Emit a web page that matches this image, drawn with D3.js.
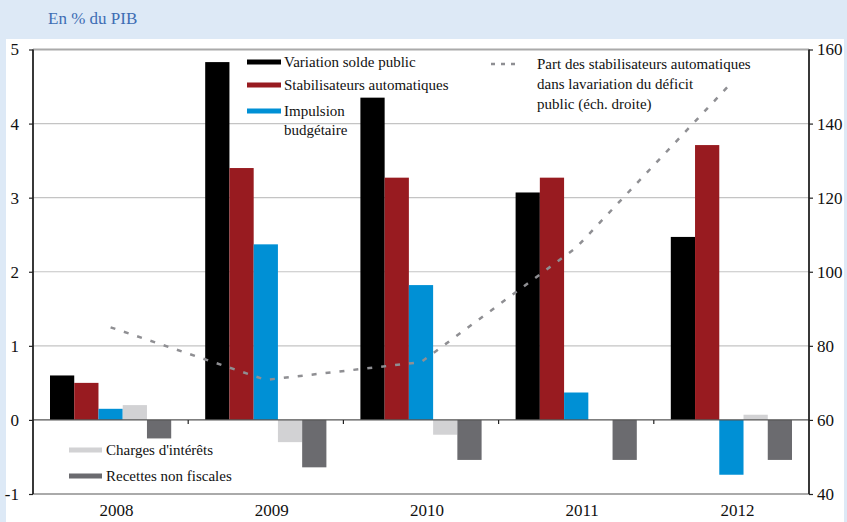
<!DOCTYPE html>
<html>
<head>
<meta charset="utf-8">
<script src="https://cdn.jsdelivr.net/npm/d3@7"></script>
<style>
  body { margin: 0; background: #dde9f6; }
  svg { display: block; font-family: "Liberation Serif", "DejaVu Serif", serif; }
</style>
</head>
<body>
<svg id="chart" width="847" height="522"></svg>
<script>
// données
const years = ['2008', '2009', '2010', '2011', '2012'];
const seriesNames = ['Variation solde public', 'Stabilisateurs automatiques', 'Impulsion budgétaire', "Charges d'intérêts", 'Recettes non fiscales'];
const seriesColors = ['#000000', '#981b20', '#0090d5', '#d2d2d4', '#6b6b6f'];
const soldePublic = [0.6, 4.83, 4.35, 3.07, 2.47];
const stabilisateurs = [0.5, 3.4, 3.27, 3.27, 3.71];
const impulsion = [0.15, 2.37, 1.82, 0.37, -0.74];
const chargesInterets = [0.2, -0.3, -0.2, 0, 0.07];
const recettesNonFiscales = [-0.25, -0.64, -0.54, -0.54, -0.54];
const partStabilisateurs = [85, 70.8, 75.6, 106.5, 151]; // éch. droite
const leftTicks = [-1, 0, 1, 2, 3, 4, 5];
const rightTicks = [40, 60, 80, 100, 120, 140, 160];

const allSeries = [soldePublic, stabilisateurs, impulsion, chargesInterets, recettesNonFiscales];

const svg = d3.select('#chart');
const m = {left: 33, right: 809, top: 49.5, bottom: 494};

// fond blanc
svg.append('rect').attr('x', 6).attr('y', 39).attr('width', 838).attr('height', 483).attr('fill', '#fff');

svg.append('text').attr('x', 48).attr('y', 24).attr('font-size', 17).attr('fill', '#3d6db4').text('En % du PIB');

const x = d3.scaleBand().domain(years).range([m.left, m.right]).padding(0);
const xs = d3.scaleBand().domain(d3.range(5)).range([17, x.bandwidth() - 17]).padding(0);
const y = d3.scaleLinear().domain([-1, 5]).range([m.bottom, m.top]);
const y2 = d3.scaleLinear().domain([40, 160]).range([m.bottom, m.top]);

// grille
svg.append('g').selectAll('line').data(leftTicks.filter(d => d !== 0)).join('line')
  .attr('x1', m.left).attr('x2', m.right)
  .attr('y1', d => y(d)).attr('y2', d => y(d))
  .attr('stroke', d => (d === 5 || d === -1) ? '#aaaaaa' : '#c4c4c4')
  .attr('stroke-width', d => (d === 5 || d === -1) ? 2 : 1.2);

// barres
years.forEach((yr, i) => {
  svg.append('g').selectAll('rect').data(allSeries.map((s, k) => ({k, v: s[i]})).filter(d => d.v !== 0)).join('rect')
    .attr('x', d => x(yr) + xs(d.k))
    .attr('width', xs.bandwidth())
    .attr('y', d => y(Math.max(0, d.v)))
    .attr('height', d => Math.abs(y(d.v) - y(0)))
    .attr('fill', d => seriesColors[d.k]);
});

// ligne zéro
svg.append('line').attr('x1', m.left).attr('x2', m.right).attr('y1', y(0)).attr('y2', y(0))
  .attr('stroke', '#555').attr('stroke-width', 1.2);
svg.append('g').selectAll('line').data(years.slice(1)).join('line')
  .attr('x1', d => x(d)).attr('x2', d => x(d)).attr('y1', y(0)).attr('y2', y(0) + 4)
  .attr('stroke', '#222').attr('stroke-width', 1.2);

// courbe pointillée
const line = d3.line().x((d, i) => x(years[i]) + x.bandwidth() / 2).y(d => y2(d));
svg.append('path').datum(partStabilisateurs).attr('d', line)
  .attr('fill', 'none').attr('stroke', '#8f8f93').attr('stroke-width', 2.5).attr('stroke-dasharray', '5,9');

// axes
const yAxis = d3.axisLeft(y).tickValues(leftTicks).tickSize(4).tickPadding(10).tickFormat(d3.format('d'));
const gl = svg.append('g').attr('transform', `translate(${m.left},0)`).call(yAxis);
const y2Axis = d3.axisRight(y2).tickValues(rightTicks).tickSize(4).tickPadding(4);
const gr = svg.append('g').attr('transform', `translate(${m.right},0)`).call(y2Axis);
[gl, gr].forEach(g => {
  g.select('.domain').attr('stroke', '#222').attr('stroke-width', 1.8).attr('d',
    `M0,${m.top}V${m.bottom}`);
  g.selectAll('.tick line').attr('stroke', '#222').attr('stroke-width', 1.2);
  g.selectAll('text').attr('font-family', '"Liberation Serif", serif').attr('font-size', 17).attr('fill', '#111');
});
gl.selectAll('text').text(d => d < 0 ? '-' + Math.abs(d) : d);

svg.append('g').selectAll('text').data(years).join('text')
  .attr('x', d => x(d) + x.bandwidth() / 2 + 6).attr('y', 516)
  .attr('text-anchor', 'middle').attr('font-size', 17).attr('fill', '#111').text(d => d);

// légende
const legTop = [{k: 0, y: 62}, {k: 1, y: 85}, {k: 2, y: 111}];
legTop.forEach(l => {
  svg.append('rect').attr('x', 247).attr('y', l.y - 2.5).attr('width', 34).attr('height', 5).attr('fill', seriesColors[l.k]);
});
const lt = svg.append('g').attr('font-size', 15).attr('fill', '#111');
lt.append('text').attr('x', 284).attr('y', 67).text(seriesNames[0]);
lt.append('text').attr('x', 284).attr('y', 90).text(seriesNames[1]);
lt.append('text').attr('x', 284).attr('y', 116).text('Impulsion');
lt.append('text').attr('x', 284).attr('y', 135).text('budgétaire');

svg.append('line').attr('x1', 491).attr('x2', 517).attr('y1', 64).attr('y2', 64)
  .attr('stroke', '#8f8f93').attr('stroke-width', 2.5).attr('stroke-dasharray', '4,6');
lt.append('text').attr('x', 537).attr('y', 69).text('Part des stabilisateurs automatiques');
lt.append('text').attr('x', 537).attr('y', 89).text('dans lavariation du déficit');
lt.append('text').attr('x', 537).attr('y', 109).text('public (éch. droite)');

[{k: 3, y: 450}, {k: 4, y: 476}].forEach(l => {
  svg.append('rect').attr('x', 69).attr('y', l.y - 2.5).attr('width', 33).attr('height', 5).attr('fill', seriesColors[l.k]);
  lt.append('text').attr('x', 106).attr('y', l.y + 5).text(seriesNames[l.k]);
});
</script>
</body>
</html>
